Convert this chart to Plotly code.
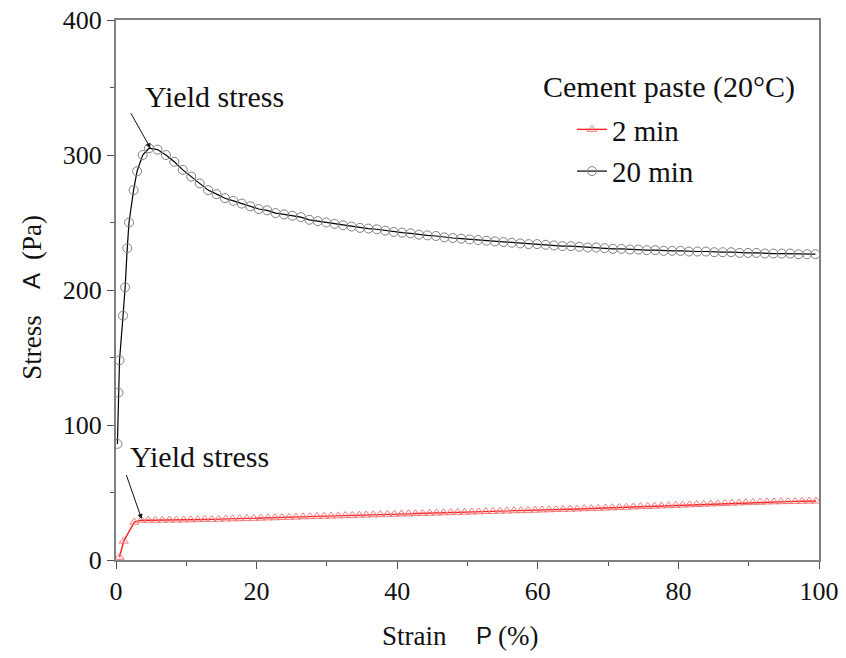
import plotly.graph_objects as go

# ---------------- data ----------------
strain_20 = [0.2, 0.35, 0.5, 1.0, 1.3, 1.6, 1.85, 2.5, 3.0, 3.8, 4.7, 5.9, 7.1, 8.3, 9.5,
             10.7, 11.9, 13.1, 14.3, 15.5, 16.7, 17.9, 19.1, 20.3, 21.5, 22.7, 23.9, 25.1,
             26.3, 27.5, 28.7, 29.9, 31.1, 32.3, 33.5, 34.7, 35.9, 37.1, 38.3, 39.5, 40.7,
             41.9, 43.1, 44.3, 45.5, 46.7, 47.9, 49.1, 50.3, 51.5, 52.7, 53.9, 55.1, 56.3,
             57.5, 58.7, 59.9, 61.1, 62.3, 63.5, 64.7, 65.9, 67.1, 68.3, 69.5, 70.7, 71.9,
             73.1, 74.3, 75.5, 76.7, 77.9, 79.1, 80.3, 81.5, 82.7, 83.9, 85.1, 86.3, 87.5,
             88.7, 89.9, 91.1, 92.3, 93.5, 94.7, 95.9, 97.1, 98.3, 99.5]
stress_20 = [86, 124, 148, 181, 202, 231, 250, 274, 288, 300, 305, 304, 300, 295, 289,
             284, 279, 274, 271, 268, 266, 264, 262, 260, 259, 257, 256, 255,
             254, 252, 251, 250, 249, 248, 247, 246, 245.5, 245, 244, 243, 242.5,
             242, 241, 240.5, 240, 239, 238.5, 238, 237.5, 237, 236.5, 236, 235.5, 235,
             234.5, 234, 234, 233.5, 233, 232.5, 232.5, 232, 231.5, 231.5, 231, 230.5, 230.5,
             230, 230, 229.5, 229.5, 229, 229, 229, 228.5, 228.5, 228.5, 228, 228, 228,
             227.5, 227.5, 227.5, 227, 227, 227, 227, 226.5, 226.5, 226.5]

strain_2 = [0.5, 1.1, 2.6, 3.6, 4.6, 5.6, 6.6, 7.6, 8.6, 9.6, 10.6, 11.6, 12.6, 13.6, 14.6,
            15.6, 16.6, 17.6, 18.6, 19.6, 20.6, 21.6, 22.6, 23.6, 24.6, 25.6, 26.6, 27.6,
            28.6, 29.6, 30.6, 31.6, 32.6, 33.6, 34.6, 35.6, 36.6, 37.6, 38.6, 39.6, 40.6,
            41.6, 42.6, 43.6, 44.6, 45.6, 46.6, 47.6, 48.6, 49.6, 50.6, 51.6, 52.6, 53.6,
            54.6, 55.6, 56.6, 57.6, 58.6, 59.6, 60.6, 61.6, 62.6, 63.6, 64.6, 65.6, 66.6,
            67.6, 68.6, 69.6, 70.6, 71.6, 72.6, 73.6, 74.6, 75.6, 76.6, 77.6, 78.6, 79.6,
            80.6, 81.6, 82.6, 83.6, 84.6, 85.6, 86.6, 87.6, 88.6, 89.6, 90.6, 91.6, 92.6,
            93.6, 94.6, 95.6, 96.6, 97.6, 98.6, 99.6]
stress_2 = [2, 14, 28, 29.5, 29.5, 29.5, 29.5, 29.6, 29.6, 29.7, 29.8, 29.9, 30.0, 30.1, 30.2,
            30.4, 30.5, 30.6, 30.8, 30.9, 31.0, 31.2, 31.3, 31.5, 31.6, 31.8, 32.0, 32.1,
            32.3, 32.4, 32.6, 32.7, 32.9, 33.0, 33.2, 33.3, 33.5, 33.6, 33.8, 33.9, 34.1,
            34.2, 34.4, 34.5, 34.7, 34.8, 35.0, 35.1, 35.3, 35.4, 35.6, 35.7, 35.9, 36.0,
            36.2, 36.3, 36.5, 36.6, 36.8, 36.9, 37.1, 37.2, 37.4, 37.5, 37.7, 37.8, 38.0,
            38.1, 38.3, 38.5, 38.7, 38.9, 39.1, 39.3, 39.5, 39.7, 39.9, 40.1, 40.3, 40.5,
            40.7, 40.9, 41.1, 41.3, 41.5, 41.7, 41.9, 42.1, 42.3, 42.5, 42.7, 42.8, 43.0,
            43.1, 43.2, 43.3, 43.4, 43.5, 43.6, 43.7]

series_names = ["2 min", "20 min"]
legend_title = "Cement paste (20°C)"
x_ticks = [0, 20, 40, 60, 80, 100]
y_ticks = [0, 100, 200, 300, 400]
x_title_parts = ["Strain", "P", "(%)"]
y_title_parts = ["Stress", "A", "(Pa)"]
annotation_text = "Yield stress"

SERIF = "Liberation Serif"
SANS = "Liberation Sans"

fig = go.Figure()
fig.add_trace(go.Scatter(
    x=strain_2, y=stress_2, mode="lines+markers", name=series_names[0],
    line=dict(color="#ff2020", width=1.4),
    marker=dict(symbol="triangle-up-open", size=8, color="#f07a7a",
                line=dict(width=1, color="#f07a7a")),
    legendgroup="a"))
fig.add_trace(go.Scatter(
    x=strain_20, y=stress_20, mode="lines+markers", name=series_names[1],
    line=dict(color="#000000", width=1.2),
    marker=dict(symbol="circle-open", size=9, color="#808080",
                line=dict(width=1, color="#808080")),
    legendgroup="b"))

axis_common = dict(
    showline=True, linecolor="#808080", linewidth=2, mirror=True,
    ticks="outside", ticklen=7, tickwidth=1.3, tickcolor="#505050",
    showgrid=False, zeroline=False, automargin=False, ticklabeloverflow="allow",
    tickfont=dict(family=SERIF, size=26, color="#111"),
)

fig.update_xaxes(
    range=[0, 100], tickvals=x_ticks,
    minor=dict(ticks="outside", ticklen=4, dtick=10, tickcolor="#505050", tickwidth=1),
    **axis_common)
fig.update_yaxes(
    range=[0, 400], tickvals=y_ticks,
    minor=dict(ticks="outside", ticklen=4, dtick=50, tickcolor="#505050", tickwidth=1),
    **axis_common)

title_serif = dict(family=SERIF, size=27, color="#111")
title_sans = dict(family=SANS, size=24, color="#111")
# x axis title pieces
fig.add_annotation(x=0.4246, y=-0.1407, xref="paper", yref="paper", text=x_title_parts[0],
                   showarrow=False, xanchor="center", yanchor="middle", font=title_serif)
fig.add_annotation(x=0.5235, y=-0.1407, xref="paper", yref="paper", text=x_title_parts[1],
                   showarrow=False, xanchor="center", yanchor="middle", font=title_sans)
fig.add_annotation(x=0.5725, y=-0.1407, xref="paper", yref="paper", text=x_title_parts[2],
                   showarrow=False, xanchor="center", yanchor="middle", font=title_serif)
# y axis title pieces
fig.add_annotation(x=-0.1195, y=0.395, xref="paper", yref="paper", text=y_title_parts[0],
                   showarrow=False, textangle=-90, xanchor="center", yanchor="middle", font=title_serif)
fig.add_annotation(x=-0.1195, y=0.5167, xref="paper", yref="paper", text=y_title_parts[1],
                   showarrow=False, textangle=-90, xanchor="center", yanchor="middle", font=title_sans)
fig.add_annotation(x=-0.1195, y=0.598, xref="paper", yref="paper", text=y_title_parts[2],
                   showarrow=False, textangle=-90, xanchor="center", yanchor="middle", font=title_serif)

ann_font = dict(family=SERIF, size=30, color="#111")
fig.add_annotation(x=4.9, y=305, ax=2.0, ay=332, xref="x", yref="y", axref="x", ayref="y",
                   text="", showarrow=True, arrowhead=2, arrowsize=1, arrowwidth=1,
                   arrowcolor="#111", standoff=0)
fig.add_annotation(x=3.65, y=30.4, ax=1.4, ay=64, xref="x", yref="y", axref="x", ayref="y",
                   text="", showarrow=True, arrowhead=2, arrowsize=1, arrowwidth=1,
                   arrowcolor="#111", standoff=0)
fig.add_annotation(x=3.8, y=343, xref="x", yref="y", text=annotation_text, showarrow=False,
                   xanchor="left", yanchor="middle", font=ann_font)
fig.add_annotation(x=1.7, y=77, xref="x", yref="y", text=annotation_text, showarrow=False,
                   xanchor="left", yanchor="middle", font=ann_font)
fig.add_annotation(x=0.969, y=0.876, xref="paper", yref="paper", text=legend_title,
                   showarrow=False, xanchor="right", yanchor="middle", font=ann_font)

fig.update_layout(
    width=846, height=658,
    margin=dict(l=116, r=27, t=20, b=98),
    paper_bgcolor="white", plot_bgcolor="white",
    showlegend=True,
    legend=dict(x=0.6486, y=0.8444, xanchor="left", yanchor="top",
                font=dict(family=SERIF, size=29, color="#111"),
                bgcolor="rgba(0,0,0,0)", tracegroupgap=1, itemwidth=30,
                traceorder="grouped"),
)

# remove the default 8px page margin so the figure fills the window exactly
fig.write_html("out.html", config={"displayModeBar": False},
               post_script="document.body.style.margin='0';")
